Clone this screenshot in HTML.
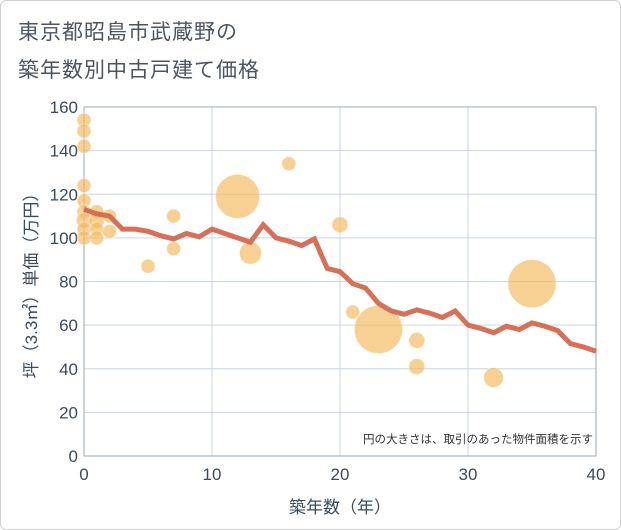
<!DOCTYPE html>
<html><head><meta charset="utf-8"><style>
body{margin:0;background:#fff;}
#wrap{width:619px;height:528px;position:relative;background:#fff;border:1px solid #d0d0d0;border-radius:6px;font-family:"Liberation Sans","Noto Sans CJK JP",sans-serif;overflow:hidden;}
.t{position:absolute;left:17px;font-size:21px;color:#4d5560;letter-spacing:1px;}
</style></head><body>
<div id="wrap">
<div class="t" style="top:15px">東京都昭島市武蔵野の</div>
<div class="t" style="top:53px">築年数別中古戸建て価格</div>
<svg id="chart" width="621" height="530" style="position:absolute;left:-1px;top:-1px"></svg>
</div>
<script>
const years=[0,1,2,3,4,5,6,7,8,9,10,11,12,13,14,15,16,17,18,19,20,21,22,23,24,25,26,27,28,29,30,31,32,33,34,35,36,37,38,39,40];
const avgPrice=[113,111,110,104,104,103,101,99.5,102,100.5,104,102,100,98,106,100,98.5,96.5,99.5,86,84.5,79,77,70,66.5,65,67,65.5,63.5,66.5,60,58.5,56.5,59.5,58,61,59.5,57.5,51.5,50,48];
const bubbleAge=[0,0,0,0,0,0,0,0,0,1,1,1,1,2,2,5,7,7,12,13,16,20,21,23,26,26,32,35];
const bubblePrice=[154,149,142,124,117,112,108,104,100,112,108,104,100,110,103,87,110,95,119,93,134,106,66,58,53,41,36,79];
const bubbleArea=[1,1,1,1,1,1,1.2,1,1,1,1.2,1,1,1,1,1,1,1,9.9,2.5,1,1.3,1,11.8,1.3,1.3,2,11.8];
const xTicks=[0,10,20,30,40];
const yTicks=[0,20,40,60,80,100,120,140,160];
const L=84,R=596,T=107,B=456;
const xs=v=>L+(v-0)/40*(R-L);
const ys=v=>B-v/160*(B-T);
const svg=document.getElementById('chart');
const NS='http://www.w3.org/2000/svg';
function mk(tag,attrs,parent){const e=document.createElementNS(NS,tag);for(const k in attrs)e.setAttribute(k,attrs[k]);(parent||svg).appendChild(e);return e;}
const col='#3b4b5d';
xTicks.forEach(v=>{
 const l=mk('line',{x1:xs(v),x2:xs(v),y1:T,y2:B,stroke:'#c9d6e3','stroke-width':1});
 
 
 const t=mk('text',{x:xs(v),y:B+24,'text-anchor':'middle','font-size':17,fill:col});
 t.textContent=v;
 
 
});
yTicks.forEach(v=>{
 const l=mk('line',{x1:L,x2:R,y1:ys(v),y2:ys(v),stroke:'#c9d6e3','stroke-width':1});
 
 
 const t=mk('text',{x:L-6,y:ys(v)+6,'text-anchor':'end','font-size':17,fill:col});
 t.textContent=v;
 
 
});
const fr=mk('rect',{x:L,y:T,width:R-L,height:B-T,fill:'none',stroke:'#9aa8b6','stroke-width':1});


bubbleAge.forEach((a,i)=>{
 const c=mk('circle',{cx:xs(a),cy:ys(bubblePrice[i]),r:7*Math.sqrt(bubbleArea[i]),fill:'#f2b95a','fill-opacity':0.65,stroke:'#fff','stroke-opacity':0.4,'stroke-width':1});
 
 
});
const pts=years.map((y,i)=>xs(y)+','+ys(avgPrice[i])).join(' ');
const pl=mk('polyline',{points:pts,fill:'none',stroke:'#d4694f','stroke-width':5,'stroke-linejoin':'miter','stroke-opacity':0.95});


const note=mk('text',{x:R-3,y:B-13,'text-anchor':'end','font-size':11.5,fill:'#333'});
note.textContent='円の大きさは、取引のあった物件面積を示す';


const xt=mk('text',{x:(L+R)/2,y:513,'text-anchor':'middle','font-size':17,fill:col});
xt.textContent='築年数（年）';


const yt=mk('text',{x:0,y:0,'text-anchor':'middle','font-size':17,fill:col,transform:'translate(37,'+((T+B)/2)+') rotate(-90)'});
yt.textContent='坪（3.3㎡）単価（万円）';


</script>
</body></html>
